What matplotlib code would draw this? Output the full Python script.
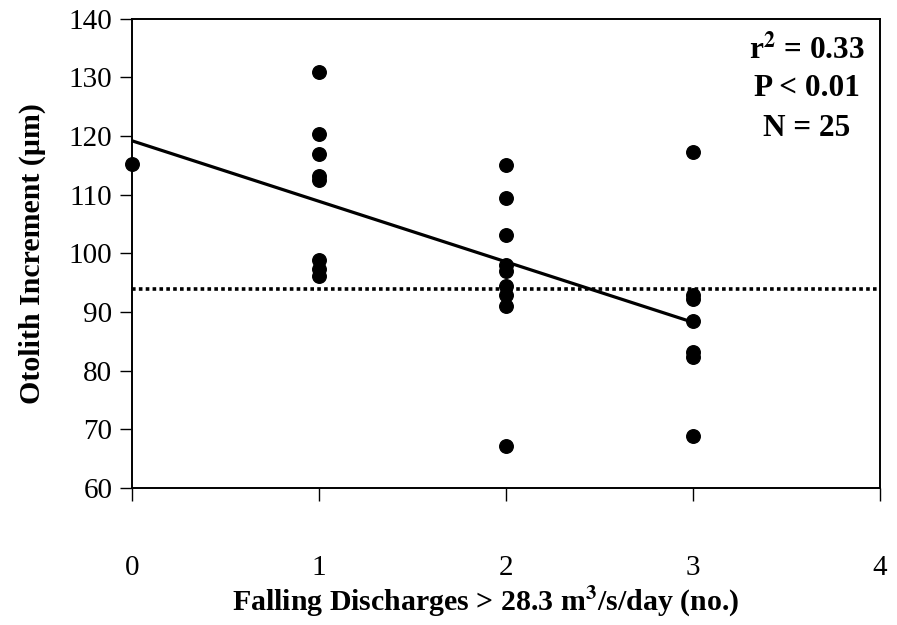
import matplotlib
matplotlib.use("Agg")
import matplotlib.pyplot as plt
import numpy as np

plt.rcParams['font.family'] = ['Liberation Serif', 'DejaVu Serif']
plt.rcParams['mathtext.fontset'] = 'stix'

# falling discharge events per group and otolith increments (um)
x0 = [0]
y0 = [115.3]
x1 = [1] * 8
y1 = [131.0, 120.4, 116.9, 113.2, 112.6, 98.8, 97.4, 96.2]
x2 = [2] * 9
y2 = [115.0, 109.4, 103.2, 98.0, 97.0, 94.4, 93.0, 91.0, 67.2]
x3 = [3] * 7
y3 = [117.3, 93.0, 92.3, 88.5, 83.2, 82.3, 68.8]

ref_level = 94.0
stats_lines = [r'r$^{\mathbf{2}}$ = 0.33', 'P < 0.01', 'N = 25']

xs = np.array(x0 + x1 + x2 + x3, dtype=float)
ys = np.array(y0 + y1 + y2 + y3)

fig = plt.figure(figsize=(8.97, 6.25), dpi=100)
ax = fig.add_axes([0.147, 0.219, 0.834, 0.751])

ax.scatter(xs, ys, s=95, color='black', zorder=3, clip_on=False)

# least squares fit over the observed range
slope, icpt = np.polyfit(xs, ys, 1)
fx = np.array([xs.min(), xs.max()])
ax.plot(fx, icpt + slope * fx, color='black', lw=2.3, zorder=2)

ax.axhline(ref_level, color='black', lw=2.6, linestyle=(0, (1, 0.9)), zorder=1)

ax.set_xlim(0, 4)
ax.set_ylim(60, 140)
ax.set_xticks([0, 1, 2, 3, 4])
ax.set_yticks(np.arange(60, 141, 10))
ax.tick_params(axis='both', labelsize=21, length=9, width=1, direction='out')
ax.tick_params(axis='x', pad=39)
ax.tick_params(axis='y', pad=5)
for sp in ax.spines.values():
    sp.set_linewidth(1.4)

ax.set_ylabel('Otolith Increment (µm)', fontsize=21.5, fontweight='bold', labelpad=16)
ax.set_xlabel(r'Falling Discharges > 28.3 m$^{\mathbf{3}}$/s/day (no.)',
              fontsize=21.5, fontweight='bold', labelpad=3)
ax.xaxis.label.set_x(0.473)

for i, s in enumerate(stats_lines):
    ax.text(0.902, 0.935 - i * 0.084, s, transform=ax.transAxes, ha='center', va='center',
            fontsize=22.5, fontweight='bold')

fig.savefig('out.png', dpi=100)
